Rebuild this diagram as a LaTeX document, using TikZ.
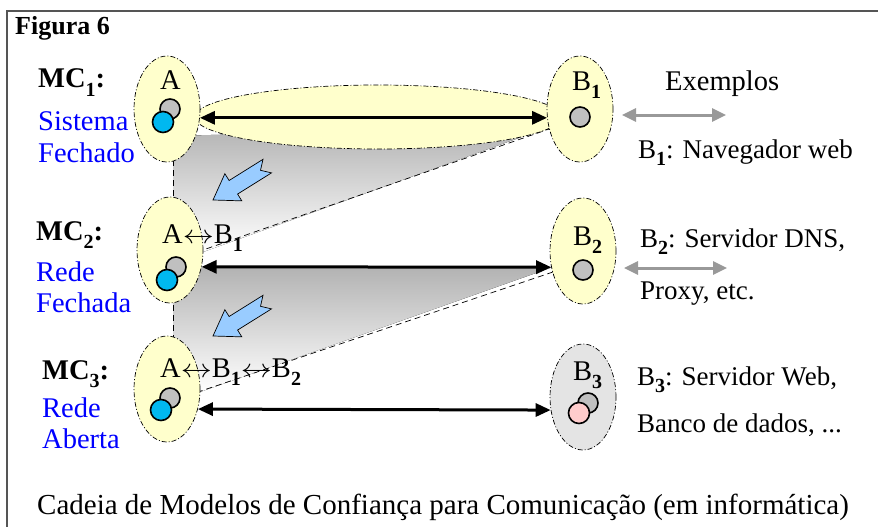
\documentclass[tikz,border=0pt]{standalone}
\usepackage{fontspec}
\usepackage{graphicx}
\setmainfont{Liberation Serif}
\usetikzlibrary{shapes.geometric,arrows.meta,positioning}
\definecolor{paleyellow}{HTML}{FFFFCC}
\definecolor{lensgray}{HTML}{E4E4E4}
\definecolor{pcgray}{HTML}{C0C0C0}
\definecolor{pcblue}{HTML}{00B8F0}
\definecolor{pcpink}{HTML}{FFCCCC}
\definecolor{arrowblue}{HTML}{99CCFF}
\definecolor{modelblue}{HTML}{0000FF}
\definecolor{framegray}{HTML}{555555}
\definecolor{hintgray}{HTML}{999999}
\newcommand{\subn}[1]{\raisebox{-0.29em}{\fontsize{20}{20}\selectfont\bfseries #1}}
\newcommand{\lr}{\scalebox{1.25}[1.05]{$\leftrightarrow$}}
\tikzset{
  party/.style={ellipse, draw, dash pattern=on 5pt off 2pt on 1pt off 2pt,
    line width=0.7pt, fill=paleyellow, minimum width=66pt,
    minimum height=106pt, inner sep=0pt},
  pc/.style={circle, draw, line width=1.6pt, minimum size=20pt, inner sep=0pt},
  txt/.style={anchor=base west, inner sep=0pt, font=\fontsize{28.5}{30}\selectfont},
  smalltxt/.style={txt, font=\fontsize{27}{30}\selectfont},
  mctxt/.style={txt, font=\fontsize{28.5}{30}\selectfont\bfseries},
  kindtxt/.style={txt, text=modelblue},
  edge/.style={dashed, dash pattern=on 6pt off 4pt, line width=0.7pt},
  link/.style={line width=3pt, {Triangle[length=15pt,width=13pt]}-{Triangle[length=15pt,width=13pt]}},
  hint/.style={hintgray, line width=3pt, {Triangle[length=14pt,width=13pt]}-{Triangle[length=14pt,width=13pt]}},
  fatarrow/.pic={
    \draw[fill=arrowblue, line width=0.7pt] (0,0) -- (-24,16) -- (-24,8) -- (-64,8)
      -- (-56,0) -- (-64,-8) -- (-24,-8) -- (-24,-16) -- cycle;
  }
}
\begin{document}
\begin{tikzpicture}[x=1pt,y=-1pt]
  \useasboundingbox (0,0) rectangle (878,527);
  % frame
  \draw[framegray, line width=2pt] (7,527) -- (7,11) -- (878,11);
  \node[mctxt, font=\fontsize{26}{28}\selectfont\bfseries] (title) at (15,35) {Figura 6};

  % shaded wedges between the models
  \fill[top color=gray!60, bottom color=white] (173,136) -- (552,126) -- (203,252) -- (173,252) -- cycle;
  \fill[top color=gray!60, bottom color=white] (173,267) -- (553,267) -- (200,392) -- (173,392) -- cycle;
  \draw[edge] (173,150) -- (173,205);
  \draw[edge] (552,128) -- (203,250);
  \draw[edge] (173,295) -- (173,340);
  \draw[edge] (553,272) -- (195,393);

  % parties
  \node[party, minimum width=366pt, minimum height=64pt] (lens) at (378,117) {};
  \node[party] (A1) at (167,109) {};
  \node[party] (B1) at (580,109) {};
  \node[party] (A2) at (170,250) {};
  \node[party] (B2) at (583,251) {};
  \node[party] (A3) at (167,389) {};
  \node[party, fill=lensgray] (B3) at (583,397) {};

  % machines
  \node[pc, fill=pcgray] (a1back) at (170,109) {};
  \node[pc, fill=pcblue, minimum size=21pt] (a1front) at (163,122) {};
  \node[pc, fill=pcgray] (b1pc) at (580,117) {};
  \node[pc, fill=pcgray] (a2back) at (176,267) {};
  \node[pc, fill=pcblue, minimum size=21pt] (a2front) at (167,280) {};
  \node[pc, fill=pcgray] (b2pc) at (583,270) {};
  \node[pc, fill=pcgray] (a3back) at (170,398) {};
  \node[pc, fill=pcblue, minimum size=21pt] (a3front) at (161,410) {};
  \node[pc, fill=pcgray] (b3back) at (588,403) {};
  \node[pc, fill=pcpink, minimum size=21pt] (b3front) at (579,413) {};

  % trust links
  \draw[link] (A1.-15.5) -- (B1.195.5);
  \draw[link] (A2.-28.5) -- (B2.207);
  \draw[link] (A3.-33) -- (B3.202);

  % labels in the parties
  \node[txt] (a1name) at (160,89) {A};
  \node[txt] (b1name) at (572,90) {B\subn{1}};
  \node[txt] (a2name) at (162,243) {A\lr B\subn{1}};
  \node[txt] (b2name) at (573,245) {B\subn{2}};
  \node[txt] (a3name) at (160,377) {A\lr B\subn{1}\lr B\subn{2}};
  \node[txt] (b3name) at (573,380) {B\subn{3}};

  % model names
  \node[mctxt] (mc1) at (38,88) {MC\subn{1}:};
  \node[kindtxt] (mc1a) at (38,130) {Sistema};
  \node[kindtxt] (mc1b) at (38,162) {Fechado};
  \node[mctxt] (mc2) at (36,240) {MC\subn{2}:};
  \node[kindtxt] (mc2a) at (36,281) {Rede};
  \node[kindtxt] (mc2b) at (36,312) {Fechada};
  \node[mctxt] (mc3) at (42,379) {MC\subn{3}:};
  \node[kindtxt] (mc3a) at (42,417) {Rede};
  \node[kindtxt] (mc3b) at (42,448) {Aberta};

  % examples
  \coordinate (ex1w) at (622,115);
  \coordinate (ex1e) at (726,115);
  \coordinate (ex2w) at (624,268);
  \coordinate (ex2e) at (727,268);
  \draw[hint] (ex1w) -- (ex1e);
  \draw[hint] (ex2w) -- (ex2e);
  \node[txt] (ex) at (665,90) {Exemplos};
  \node[smalltxt] (ex1) at (638,158) {B\subn{1}: Navegador web};
  \node[smalltxt] (ex2a) at (640,247) {B\subn{2}: Servidor DNS,};
  \node[smalltxt] (ex2b) at (640,299) {Proxy, etc.};
  \node[smalltxt] (ex3a) at (637,385) {B\subn{3}: Servidor Web,};
  \node[smalltxt] (ex3b) at (637,432) {Banco de dados, ...};

  % steps down the chain
  \pic[rotate=212] at (213,200) {fatarrow};
  \pic[rotate=212] at (213,336) {fatarrow};

  \node[txt, font=\fontsize{29}{31}\selectfont] (caption) at (37,514)
    {Cadeia de Modelos de Confiança para Comunicação (em informática)};
\end{tikzpicture}
\end{document}
